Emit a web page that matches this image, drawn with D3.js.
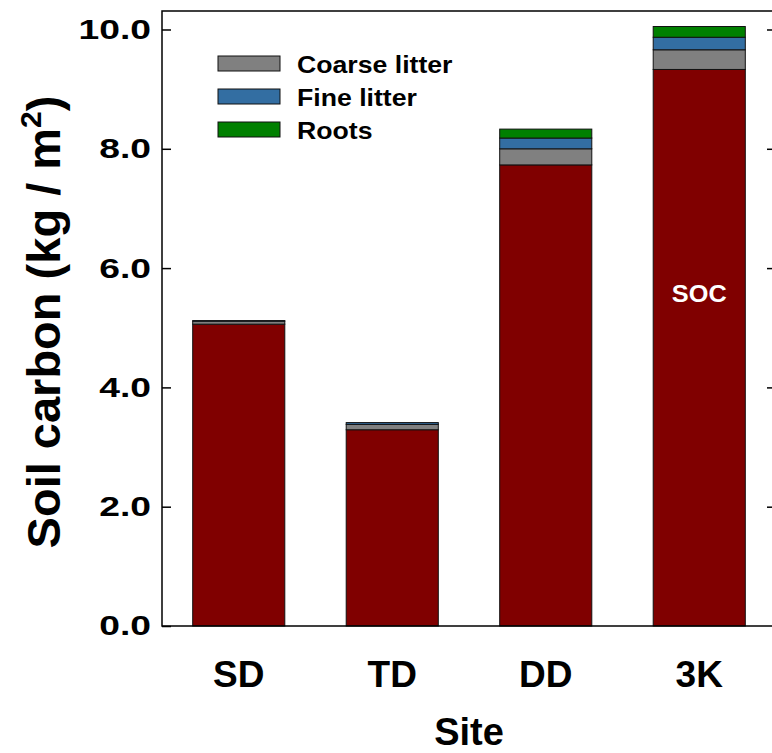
<!DOCTYPE html>
<html>
<head>
<meta charset="utf-8">
<script src="https://cdn.jsdelivr.net/npm/d3@7"></script>
<style>
  body { margin: 0; background: #fff; }
  svg { display: block; font-family: "Liberation Sans", Arial, sans-serif; font-weight: bold; }
</style>
</head>
<body>
<svg class="chart"></svg>
<script>
var sites = ["SD", "TD", "DD", "3K"];
var soc = [5.06, 3.29, 7.73, 9.33];
var coarse = [0.05, 0.09, 0.27, 0.33];
var fine = [0.01, 0.03, 0.18, 0.21];
var roots = [0.00, 0.00, 0.15, 0.18];
var yTicks = [0, 2, 4, 6, 8, 10];

var keys = ["soc", "coarse", "fine", "roots"];
var colors = { soc: "#800000", coarse: "#808080", fine: "#336ea2", roots: "#008000" };
var legendItems = [
  { key: "coarse", label: "Coarse litter" },
  { key: "fine", label: "Fine litter" },
  { key: "roots", label: "Roots" }
];

var width = 772, height = 753;
var pLeft = 162, pRight = 776, pTop = 11, pBottom = 626;

// stretch a text along its reading direction
function widen(sel, k) {
  sel.each(function() {
    var w = this.getComputedTextLength();
    d3.select(this).attr("textLength", w * k).attr("lengthAdjust", "spacingAndGlyphs");
  });
}

var rows = sites.map(function(s, i) {
  return { site: s, soc: soc[i], coarse: coarse[i], fine: fine[i], roots: roots[i] };
});

var x = d3.scaleBand()
  .domain(sites)
  .range([pLeft, pRight])
  .paddingInner(0.4)
  .paddingOuter(0.2);

var y = d3.scaleLinear()
  .domain([0, 10.31])
  .range([pBottom, pTop]);

var svg = d3.select(".chart")
  .attr("width", width)
  .attr("height", height);

var series = d3.stack().keys(keys)(rows);

// bars
svg.append("g").selectAll("g")
  .data(series)
  .enter().append("g")
  .attr("fill", function(d) { return colors[d.key]; })
  .selectAll("rect")
  .data(function(d) { return d; })
  .enter().append("rect")
  .attr("x", function(d) { return x(d.data.site); })
  .attr("y", function(d) { return y(d[1]); })
  .attr("width", x.bandwidth())
  .attr("height", function(d) { return y(d[0]) - y(d[1]); })
  .attr("stroke", "#111")
  .attr("stroke-width", 1);

// frame
svg.append("rect")
  .attr("x", pLeft)
  .attr("y", pTop)
  .attr("width", pRight - pLeft)
  .attr("height", pBottom - pTop)
  .attr("fill", "none")
  .attr("stroke", "#000")
  .attr("stroke-width", 1.5);

// left axis
var yAxis = svg.append("g")
  .attr("transform", "translate(" + pLeft + ",0)")
  .call(d3.axisLeft(y).tickValues(yTicks).tickSize(-9).tickPadding(11)
    .tickFormat(d3.format(".1f")));
yAxis.select(".domain").remove();
yAxis.selectAll("line").attr("stroke-width", 1.5);
yAxis.selectAll("text")
  .attr("font-size", 28)
  .attr("font-weight", "bold")
  .attr("font-family", "Liberation Sans, Arial, sans-serif")
  .attr("fill", "#000")
  .call(widen, 1.33);

// right ticks
var yAxisR = svg.append("g")
  .attr("transform", "translate(" + pRight + ",0)")
  .call(d3.axisRight(y).tickValues(yTicks.filter(function(d) { return d > 0; })).tickSize(-9).tickFormat(""));
yAxisR.select(".domain").remove();
yAxisR.selectAll("line").attr("stroke-width", 1.5);

// category labels
svg.append("g").selectAll("text")
  .data(sites)
  .enter().append("text")
  .attr("x", function(d) { return x(d) + x.bandwidth() / 2; })
  .attr("y", 687)
  .attr("text-anchor", "middle")
  .attr("font-size", 37)
  .text(function(d) { return d; });

// axis titles
svg.append("text")
  .attr("x", (pLeft + pRight) / 2)
  .attr("y", 745)
  .attr("text-anchor", "middle")
  .attr("font-size", 38)
  .text("Site");

var yt = svg.append("text")
  .attr("text-anchor", "middle")
  .attr("font-size", 47)
  .attr("transform", "translate(60,322) rotate(-90)");
yt.append("tspan").text("Soil carbon (kg / m");
yt.append("tspan").attr("font-size", 30).attr("dy", -19).text("2");
yt.append("tspan").attr("dy", 19).text(")");

// SOC label
svg.append("text")
  .attr("x", x("3K") + x.bandwidth() / 2)
  .attr("y", 302)
  .attr("text-anchor", "middle")
  .attr("fill", "#fff")
  .attr("font-size", 23)
  .text("SOC")
  .call(widen, 1.1);

// legend
var legend = svg.append("g").selectAll("g")
  .data(legendItems)
  .enter().append("g")
  .attr("transform", function(d, i) { return "translate(218," + (56 + i * 33) + ")"; });

legend.append("rect")
  .attr("width", 62)
  .attr("height", 15)
  .attr("fill", function(d) { return colors[d.key]; })
  .attr("stroke", "#111")
  .attr("stroke-width", 1);

legend.append("text")
  .attr("x", 79)
  .attr("y", 17)
  .attr("font-size", 24)
  .text(function(d) { return d.label; })
  .call(widen, 1.11);
</script>
</body>
</html>
